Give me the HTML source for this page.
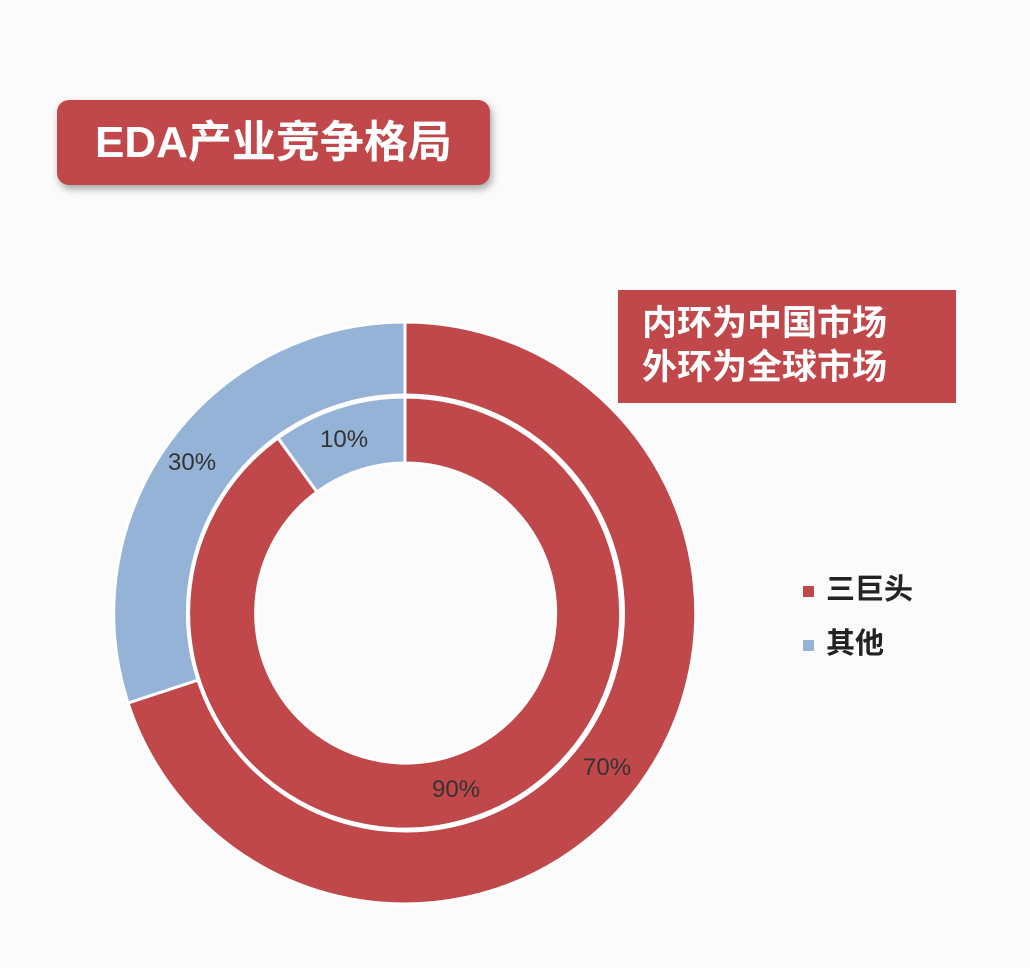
<!DOCTYPE html>
<html><head><meta charset="utf-8"><style>
body{margin:0;width:1030px;height:968px;background:#fbfbfb;position:relative;overflow:hidden;font-family:"Liberation Sans","Noto Sans CJK SC",sans-serif}
.t{position:absolute;left:57px;top:100px;width:433px;height:85px;background:#c0474a;border-radius:12px;box-shadow:2px 4px 8px rgba(0,0,0,.35);color:#fff;font-weight:bold;font-size:44px;line-height:85px;padding-left:38px;box-sizing:border-box}
.l{position:absolute;left:618px;top:290px;width:338px;height:113px;background:#c0474a;color:#fff;font-weight:bold;font-size:35px;line-height:44px;padding:12px 0 0 24px;box-sizing:border-box}
.lg{position:absolute;font-size:29px;color:#222;font-weight:bold}
.lg i{display:inline-block;width:11px;height:11px;margin-right:12px;vertical-align:middle}
</style></head><body>
<div class="t">EDA产业竞争格局</div>
<div class="l">内环为中国市场<br>外环为全球市场</div>
<svg width="1030" height="968" style="position:absolute;left:0;top:0">
<g stroke="#fff" stroke-width="3">
<path d="M405 322 A291 291 0 1 1 128 703 L198 680 A218 218 0 1 0 405 395Z" fill="#c0474a"/>
<path d="M128 703 A291 291 0 0 1 405 322 L405 395 A218 218 0 0 0 198 680Z" fill="#95b3d7"/>
<path d="M405 397 A216 216 0 1 1 278 438 L317 492 A150 150 0 1 0 405 463Z" fill="#c0474a"/>
<path d="M278 438 A216 216 0 0 1 405 397 L405 463 A150 150 0 0 0 317 492Z" fill="#95b3d7"/>
</g>
<g font-family="Liberation Sans,sans-serif" font-size="24" fill="#333">
<text x="168" y="470">30%</text>
<text x="320" y="447">10%</text>
<text x="432" y="797">90%</text>
<text x="583" y="775">70%</text>
</g>
</svg>
<div class="lg" style="left:803px;top:566px"><i style="background:#c0474a"></i>三巨头</div>
<div class="lg" style="left:803px;top:620px"><i style="background:#95b3d7"></i>其他</div>
</body></html>
